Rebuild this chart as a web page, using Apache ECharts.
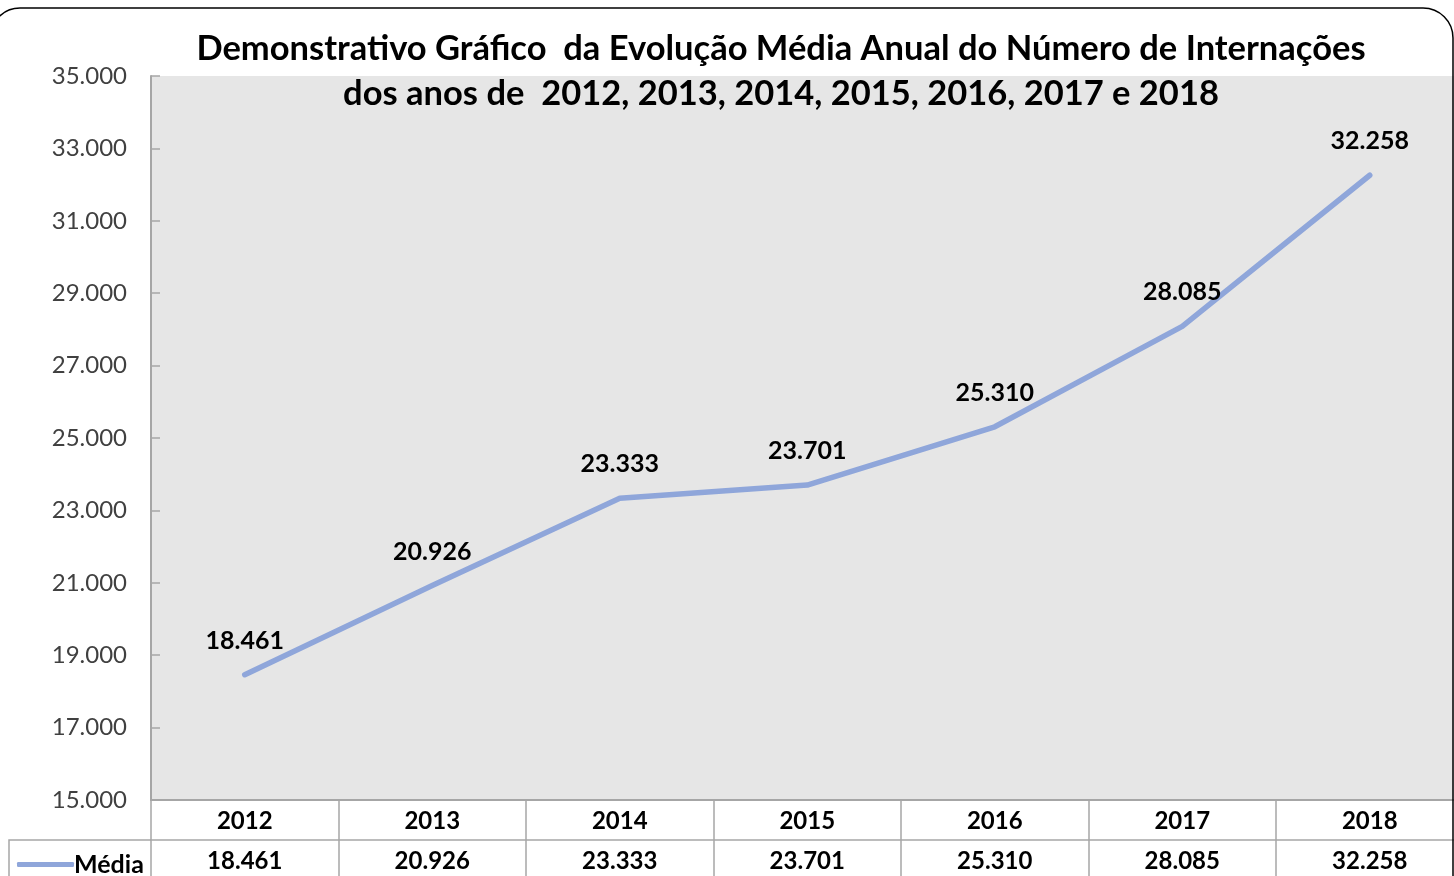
<!DOCTYPE html>
<html>
<head>
<meta charset="utf-8">
<script src="https://cdn.jsdelivr.net/npm/echarts@6/dist/echarts.min.js"></script>
<style>
html, body { margin: 0; padding: 0; background: #fff; overflow: hidden; }
#main { width: 1470px; height: 876px; }
</style>
</head>
<body>
<div id="main"></div>
<script>
var anos = ['2012', '2013', '2014', '2015', '2016', '2017', '2018'];
var media = [18461, 20926, 23333, 23701, 25310, 28085, 32258];
var yMin = 15000, yMax = 35000, yStep = 2000;

var FONT = 'Lato';
var corLinha = '#8fa6da';
var cinza = '#a6a6a6';

// separador de milhar no formato brasileiro
function fmt(v) {
	return String(v).replace(/\B(?=(\d{3})+(?!\d))/g, '.');
}

var chart = echarts.init(document.getElementById('main'));

var option = {
	backgroundColor: '#fff',
	title: {
		text: 'Demonstrativo Gráfico  da Evolução Média Anual do Número de Internações\ndos anos de  2012, 2013, 2014, 2015, 2016, 2017 e 2018',
		left: 776,
		top: 21,
		textAlign: 'center',
		textStyle: {
			fontFamily: FONT,
			fontSize: 34.5,
			fontWeight: 'bold',
			color: '#000',
			lineHeight: 45
		}
	},
	legend: {
		left: 12,
		top: 847,
		icon: 'roundRect',
		itemWidth: 57,
		itemHeight: 5,
		itemGap: 2,
		textStyle: { fontFamily: FONT, fontSize: 25, fontWeight: 'bold', color: '#000', padding: [0, 0, 6, -5] },
		data: [{ name: 'Média', itemStyle: { color: corLinha } }]
	},
	grid: {
		left: 151,
		top: 76,
		width: 1312.5,
		height: 724,
		show: true,
		backgroundColor: '#e6e6e6',
		borderWidth: 0
	},
	xAxis: [{
		type: 'category',
		data: anos,
		position: 'bottom',
		boundaryGap: true,
		axisLine: { lineStyle: { color: cinza, width: 2 } },
		axisTick: { show: true, length: 40, lineStyle: { color: cinza, width: 1.5 } },
		axisLabel: { margin: 9, fontFamily: FONT, fontSize: 24, fontWeight: 'bold', color: '#000' },
		splitLine: { show: false }
	}, {
		type: 'category',
		data: anos,
		position: 'bottom',
		offset: 40,
		boundaryGap: true,
		axisLine: { lineStyle: { color: cinza, width: 1.5 } },
		axisTick: { show: true, length: 40, lineStyle: { color: cinza, width: 1.5 } },
		axisLabel: {
			margin: 9, fontFamily: FONT, fontSize: 24, fontWeight: 'bold', color: '#000',
			formatter: function (v, i) { return fmt(media[i]); }
		},
		splitLine: { show: false }
	}],
	yAxis: {
		type: 'value',
		min: yMin,
		max: yMax,
		interval: yStep,
		axisLine: { show: true, lineStyle: { color: cinza, width: 2 } },
		axisTick: { show: true, inside: true, length: 9, lineStyle: { color: cinza, width: 1.5 } },
		axisLabel: {
			margin: 24, fontFamily: FONT, fontSize: 24, color: '#404040',
			formatter: function (v) { return fmt(v); }
		},
		splitLine: { show: false }
	},
	series: [{
		name: 'Média',
		type: 'line',
		data: media,
		symbol: 'circle',
		symbolSize: 1,
		itemStyle: { color: corLinha },
		lineStyle: { color: corLinha, width: 5.5, cap: 'round', join: 'round' },
		label: {
			show: true,
			position: 'top',
			distance: 21,
			fontFamily: FONT,
			fontSize: 25,
			fontWeight: 'bold',
			color: '#000',
			formatter: function (p) { return fmt(p.value); }
		}
	}],
	graphic: [{
		type: 'rect',
		shape: { x: -10, y: 8, width: 1463, height: 920, r: 30 },
		style: { fill: 'none', stroke: '#000', lineWidth: 1.5 },
		z: 100
	}, {
		type: 'polyline',
		shape: { points: [[9, 876], [9, 840], [151, 840]] },
		style: { fill: 'none', stroke: cinza, lineWidth: 1.5 },
		z: 100
	}]
};

chart.setOption(option);
</script>
</body>
</html>
